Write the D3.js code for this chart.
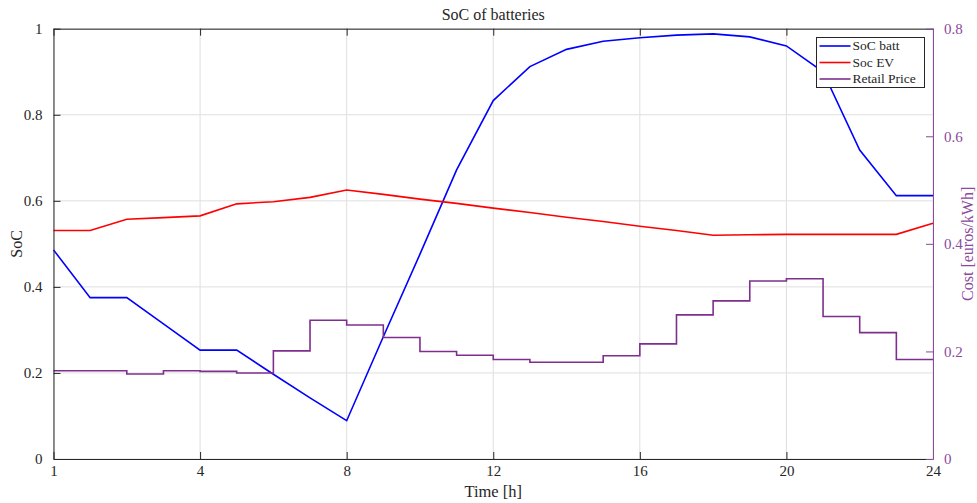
<!DOCTYPE html>
<head>
  <script src="https://d3js.org/d3.v7.min.js"></script>
  <style>
    body { margin: 0; background: #fff; }
    text { font-family: "Liberation Serif", "DejaVu Serif", serif; }
  </style>
</head>
<body>
<script type="text/javascript">
// hour index 0..24, axis labelled 1,4,8,...
var hours = d3.range(0, 25);
var socBatt = [0.486, 0.375, 0.375, 0.314, 0.253, 0.253, 0.197, 0.142, 0.089, 0.284,
               0.476, 0.672, 0.833, 0.912, 0.952, 0.971, 0.979, 0.985, 0.988, 0.981,
               0.960, 0.900, 0.718, 0.612, 0.612];
var socEV = [0.531, 0.531, 0.557, 0.561, 0.565, 0.593, 0.598, 0.608, 0.625, 0.615,
             0.604, 0.594, 0.583, 0.573, 0.562, 0.552, 0.541, 0.531, 0.520, 0.521,
             0.522, 0.522, 0.522, 0.522, 0.548];
var price = [0.164, 0.164, 0.158, 0.164, 0.163, 0.160, 0.201, 0.258, 0.249, 0.226,
             0.200, 0.193, 0.185, 0.180, 0.180, 0.192, 0.214, 0.268, 0.294, 0.331,
             0.335, 0.265, 0.235, 0.185];
var xTicks = [0, 4, 8, 12, 16, 20, 24];
var xTickLabels = ["1", "4", "8", "12", "16", "20", "24"];
var yTicks = [0, 0.2, 0.4, 0.6, 0.8, 1];
var y2Ticks = [0, 0.2, 0.4, 0.6, 0.8];
var seriesNames = ["SoC batt", "Soc EV", "Retail Price"];
var colors = ["#0000ff", "#ff0000", "#7e2f8e"];

var w = 977, h = 503;
var m = {left: 53.5, right: 44, top: 28.7, bottom: 44};
var axisColor = "#262626", rightColor = "#8b4a9c";

var svg = d3.select("body").append("svg")
  .attr("width", w).attr("height", h);

var x = d3.scaleLinear().domain([0, 24]).range([m.left, w - m.right]);
var y = d3.scaleLinear().domain([0, 1]).range([h - m.bottom, m.top]);
var y2 = d3.scaleLinear().domain([0, 0.8]).range([h - m.bottom, m.top]);

// grid
svg.append("g").selectAll("line").data(xTicks).enter().append("line")
  .attr("x1", d => x(d)).attr("x2", d => x(d))
  .attr("y1", y(0)).attr("y2", y(1))
  .attr("stroke", "#dfdfdf").attr("stroke-width", 1);
svg.append("g").selectAll("line").data(yTicks).enter().append("line")
  .attr("x1", x(0)).attr("x2", x(24))
  .attr("y1", d => y(d)).attr("y2", d => y(d))
  .attr("stroke", "#dfdfdf").attr("stroke-width", 1);

// lines
var line = d3.line().x((d, i) => x(hours[i])).y(d => y(d));
svg.append("path").datum(socBatt).attr("d", line)
  .attr("fill", "none").attr("stroke", colors[0]).attr("stroke-width", 1.6);
svg.append("path").datum(socEV).attr("d", line)
  .attr("fill", "none").attr("stroke", colors[1]).attr("stroke-width", 1.6);

var priceLine = d3.line().curve(d3.curveStepAfter)
  .x((d, i) => x(hours[i])).y(d => y2(d));
svg.append("path").datum(price.concat([price[price.length - 1]])).attr("d", priceLine)
  .attr("fill", "none").attr("stroke", colors[2]).attr("stroke-width", 1.6);

// axes (ticks inside)
var xAxis = svg.append("g").attr("transform", "translate(0," + y(0) + ")")
  .call(d3.axisBottom(x).tickValues(xTicks).tickSizeInner(-7).tickSizeOuter(0)
    .tickPadding(6).tickFormat((d, i) => xTickLabels[i]));
var xAxisTop = svg.append("g").attr("transform", "translate(0," + y(1) + ")")
  .call(d3.axisTop(x).tickValues(xTicks).tickSizeInner(-7).tickSizeOuter(0).tickFormat(""));
var yAxis = svg.append("g").attr("transform", "translate(" + x(0) + ",0)")
  .call(d3.axisLeft(y).tickValues(yTicks).tickSizeInner(-7).tickSizeOuter(0)
    .tickPadding(11).tickFormat(d3.format("")));
var yAxisR = svg.append("g").attr("transform", "translate(" + x(24) + ",0)")
  .call(d3.axisRight(y2).tickValues(y2Ticks).tickSizeInner(-7).tickSizeOuter(0)
    .tickPadding(11).tickFormat(d3.format("")));

[xAxis, xAxisTop, yAxis].forEach(function(g) {
  g.select(".domain").attr("stroke", axisColor);
  g.selectAll(".tick line").attr("stroke", axisColor);
  g.selectAll(".tick text").attr("fill", axisColor).style("font-size", "15px")
    .style("font-family", '"Liberation Serif", serif');
});
yAxisR.select(".domain").attr("stroke", rightColor);
yAxisR.selectAll(".tick line").attr("stroke", rightColor);
yAxisR.selectAll(".tick text").attr("fill", rightColor).style("font-size", "15px")
  .style("font-family", '"Liberation Serif", serif');
xAxis.selectAll(".tick text").attr("dy", "0.71em");
yAxis.selectAll(".tick text").attr("dy", "0.33em");
yAxisR.selectAll(".tick text").attr("dy", "0.33em");

// titles
svg.append("text").attr("x", (x(0) + x(24)) / 2).attr("y", 20)
  .attr("text-anchor", "middle").attr("fill", axisColor)
  .style("font-size", "16px").text("SoC of batteries");
svg.append("text").attr("x", (x(0) + x(24)) / 2).attr("y", 497)
  .attr("text-anchor", "middle").attr("fill", axisColor)
  .style("font-size", "16.5px").text("Time [h]");
svg.append("text").attr("transform", "translate(22," + y(0.5) + ") rotate(-90)")
  .attr("text-anchor", "middle").attr("fill", axisColor)
  .style("font-size", "16px").text("SoC");
svg.append("text").attr("transform", "translate(973," + y(0.5) + ") rotate(-90)")
  .attr("text-anchor", "middle").attr("fill", rightColor)
  .style("font-size", "16px").text("Cost [euros/kWh]");

// legend
var lg = svg.append("g").attr("transform", "translate(816.5,37.5)");
lg.append("rect").attr("width", 108).attr("height", 50)
  .attr("fill", "#fff").attr("stroke", axisColor).attr("stroke-width", 1);
seriesNames.forEach(function(name, i) {
  var yy = 8.5 + i * 16.5;
  lg.append("line").attr("x1", 3).attr("x2", 34).attr("y1", yy).attr("y2", yy)
    .attr("stroke", colors[i]).attr("stroke-width", 1.6);
  lg.append("text").attr("x", 36).attr("y", yy).attr("dy", "0.33em")
    .attr("fill", axisColor).style("font-size", "13.5px").text(name);
});
</script>
</body>
